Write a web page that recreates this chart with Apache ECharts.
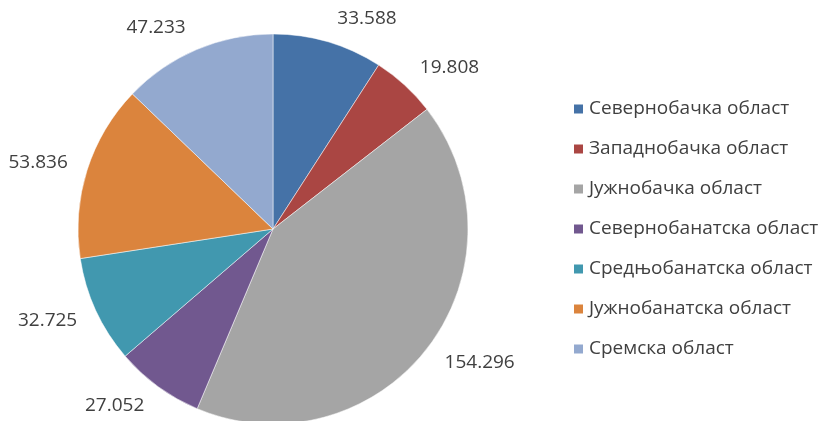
<!DOCTYPE html>
<html><head><meta charset="utf-8">
<script src="https://cdn.jsdelivr.net/npm/echarts@6/dist/echarts.min.js"></script>
<style>html,body{margin:0;padding:0;background:#fff}#c{width:819px;height:421px}</style>
</head><body><div id="c"></div>
<script>
const categories = ['Севернобачка област','Западнобачка област','Јужнобачка област','Севернобанатска област','Средњобанатска област','Јужнобанатска област','Сремска област'];
const values = [33588, 19808, 154296, 27052, 32725, 53836, 47233];
const colors = ['#4572A7','#AA4643','#A5A5A5','#71588F','#4198AF','#DB843D','#93A9CF'];
const fmt = v => String(v).replace(/\B(?=(\d{3})+(?!\d))/g, '.');
const CX = 273, CY = 229;
const chart = echarts.init(document.getElementById('c'), null, {renderer:'canvas'});
chart.setOption({
  animation:false,
  color: colors,
  legend:{orient:'vertical', left:572, top:98, padding:0, icon:'rect', itemWidth:11, itemHeight:11, itemGap:18,
    textStyle:{fontFamily:'Open Sans', fontSize:19, color:'#404040', lineHeight:22, padding:[0,0,0,0]},
    data: categories},
  series:[{type:'pie', center:[CX,CY], radius:195, startAngle:90, clockwise:true,
    itemStyle:{borderColor:'#fff', borderWidth:0.5},
    label:{show:true, position:'outside', formatter:p=>fmt(p.value), fontFamily:'Open Sans', fontSize:19, color:'#404040', overflow:'none', edgeDistance:0},
    labelLine:{show:false, length:15, length2:0},
    labelLayout: function(p){
      const r = p.labelRect;
      const mx = r.x + r.width/2 - CX, my = r.y + r.height/2 - CY;
      const l = Math.hypot(mx, my) || 1;
      return {dy: my / l * 10};
    },
    data: categories.map((n,i)=>({name:n, value:values[i]}))}]
});
</script></body></html>
